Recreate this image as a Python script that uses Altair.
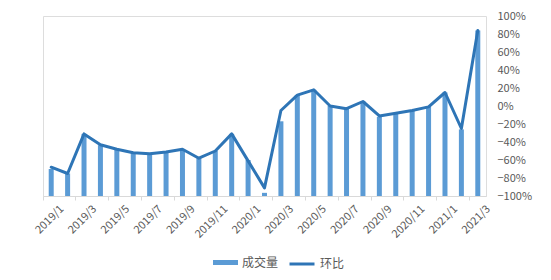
import altair as alt
import pandas as pd

months = ["2019/1", "2019/2", "2019/3", "2019/4", "2019/5", "2019/6", "2019/7", "2019/8",
          "2019/9", "2019/10", "2019/11", "2019/12", "2020/1", "2020/2", "2020/3", "2020/4",
          "2020/5", "2020/6", "2020/7", "2020/8", "2020/9", "2020/10", "2020/11", "2020/12",
          "2021/1", "2021/2", "2021/3"]
volume = [30, 25, 69, 56.5, 52, 48.5, 47, 49, 51, 42, 50, 69, 40, 3.5, 83, 112,
          118, 100, 97, 105, 88, 92, 95, 99, 115, 74, 184]
mom = [-0.68, -0.75, -0.31, -0.43, -0.48, -0.52, -0.53, -0.51, -0.48, -0.58, -0.50, -0.31,
       -0.61, -0.91, -0.05, 0.12, 0.18, 0.00, -0.03, 0.05, -0.11, -0.08, -0.05, -0.01,
       0.15, -0.25, 0.84]
bar_name, line_name = "成交量", "环比"
bar_color, line_color = "#5B9BD5", "#2E75B6"
pct_ticks = [-1.0, -0.8, -0.6, -0.4, -0.2, 0.0, 0.2, 0.4, 0.6, 0.8, 1.0]
label_months = months[::2]

df = pd.DataFrame({"month": months, "volume": volume, "mom": mom})

FONT = "Noto Sans CJK SC"
GREY = "#595959"

x = alt.X(
    "month:N", sort=months, title=None,
    scale=alt.Scale(paddingInner=0, paddingOuter=0),
    axis=alt.Axis(values=label_months, bandPosition=0, labelOffset=11, labelAngle=-45,
                  labelAlign="right", labelBaseline="middle", labelPadding=7,
                  tickSize=4, tickColor="#d9d9d9", domainColor="#d9d9d9", tickExtra=False,
                  labelColor=GREY, labelFontSize=11, labelFont=FONT, grid=False),
)

common_legend = dict(title=None, orient="none", direction="horizontal", symbolSize=625,
                     labelFont=FONT, labelFontSize=12, labelColor=GREY, labelOffset=4,
                     padding=0)

base = alt.Chart(df)

bars = base.transform_calculate(series=f"'{bar_name}'").mark_bar(size=5).encode(
    x=x,
    y=alt.Y("volume:Q", axis=None, scale=alt.Scale(domain=[0, 200], nice=False)),
    fill=alt.Fill("series:N", scale=alt.Scale(domain=[bar_name], range=[bar_color]),
                  legend=alt.Legend(legendX=170, legendY=234,
                                    symbolType="M-1,-0.2H1V0.2H-1Z",
                                    symbolStrokeWidth=0, **common_legend)),
)

line = base.transform_calculate(series=f"'{line_name}'").mark_line(
    strokeWidth=3, strokeJoin="round", strokeCap="round"
).encode(
    x=x,
    y=alt.Y("mom:Q", title=None,
            scale=alt.Scale(domain=[-1, 1], nice=False),
            axis=alt.Axis(orient="right", values=pct_ticks, format=".0%", ticks=False,
                          domain=False, grid=False, labelPadding=11, labelColor=GREY,
                          labelFontSize=11, labelFont=FONT)),
    stroke=alt.Stroke("series:N", scale=alt.Scale(domain=[line_name], range=[line_color]),
                      legend=alt.Legend(legendX=245, legendY=234, symbolType="stroke",
                                        symbolStrokeWidth=3, **common_legend)),
)

chart = alt.layer(bars, line).resolve_scale(y="independent").properties(
    width=443, height=180,
    autosize=alt.AutoSizeParams(type="none"),
    padding={"left": 43, "top": 16, "right": 65, "bottom": 84},
).configure_view(strokeWidth=0, strokeOpacity=0, stroke="transparent").configure_axis(
    gridOpacity=0, gridColor="transparent"
).configure_axisY(domain=False, ticks=False, grid=False).configure(background="white")

chart.save("out.html", embed_options={"renderer": "svg", "actions": False})
